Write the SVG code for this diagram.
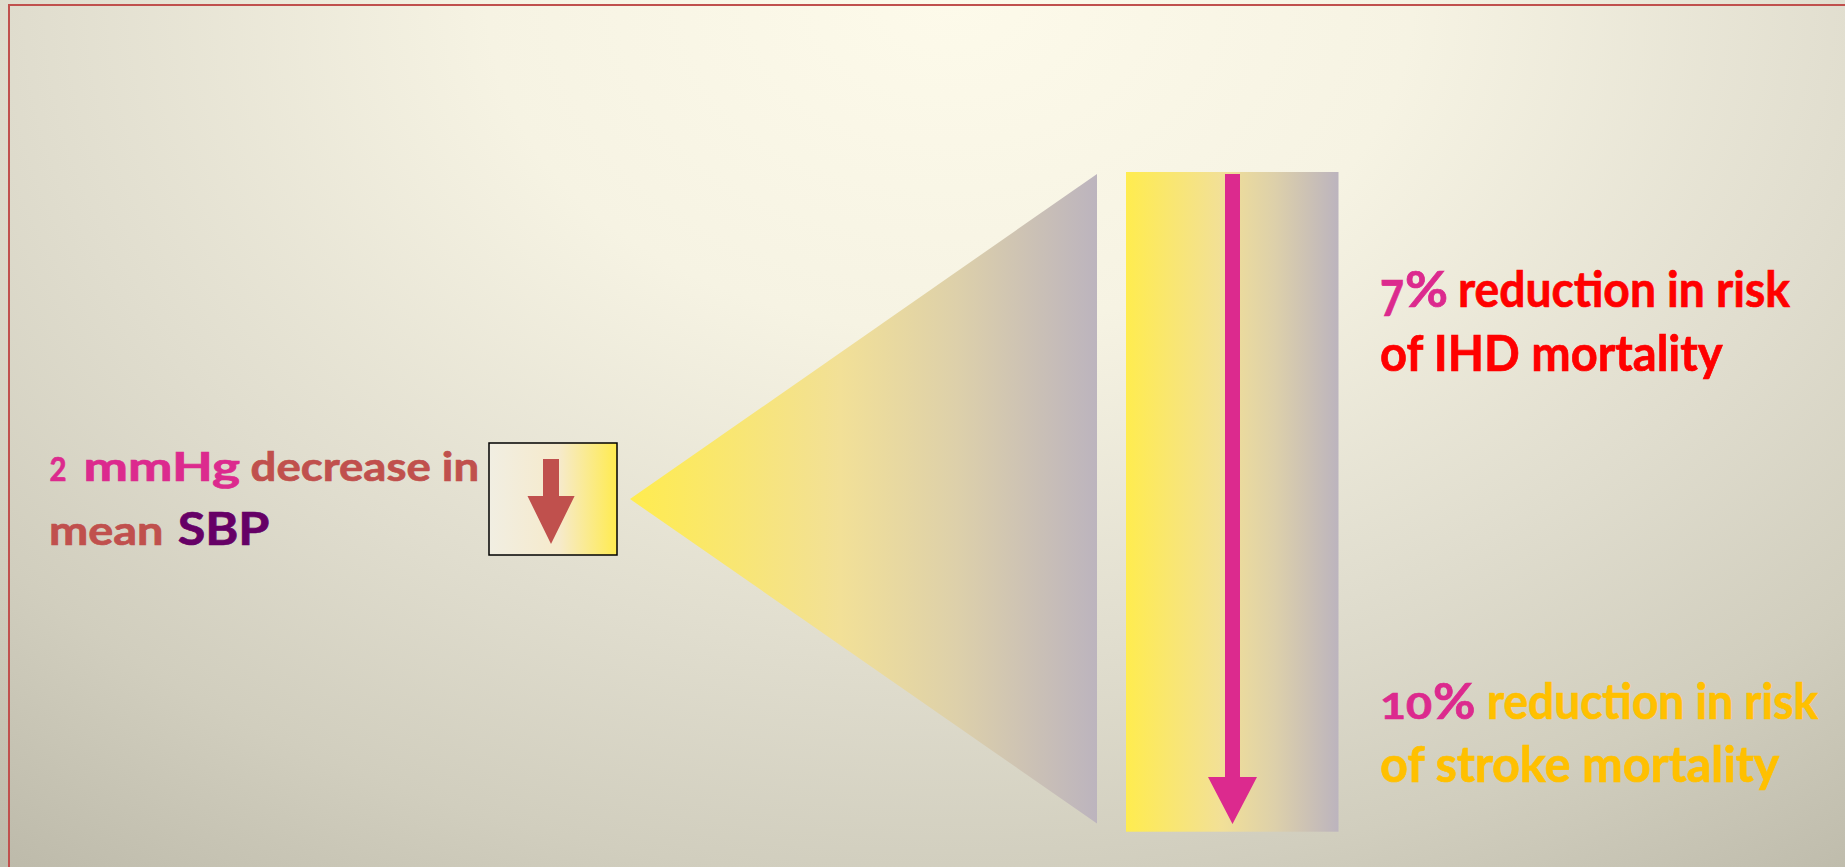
<svg xmlns="http://www.w3.org/2000/svg" width="1845" height="867" viewBox="0 0 1845 867">
<defs>
<radialGradient id="bg" gradientUnits="userSpaceOnUse" cx="950" cy="0" r="1100" gradientTransform="translate(950 0) scale(1.4 1) translate(-950 0)">
<stop offset="0" stop-color="#FDFAEA"/>
<stop offset="0.3" stop-color="#F6F3E3"/>
<stop offset="0.6" stop-color="#E0DDCE"/>
<stop offset="0.8" stop-color="#D1CEBE"/>
<stop offset="1" stop-color="#BDBAAA"/>
</radialGradient>
<linearGradient id="fan" x1="0" y1="0" x2="1" y2="0">
<stop offset="0" stop-color="#FFEC4F"/>
<stop offset="0.45" stop-color="#F2E097"/>
<stop offset="0.7" stop-color="#DDD0AA"/>
<stop offset="1" stop-color="#BCB4BE"/>
</linearGradient>
<linearGradient id="boxg" x1="0" y1="0" x2="1" y2="0">
<stop offset="0" stop-color="#F1EEE2"/>
<stop offset="0.55" stop-color="#F6EACB"/>
<stop offset="1" stop-color="#FFEB4F"/>
</linearGradient>
<style>
.t{font-family:Lato,"Open Sans","Liberation Sans",sans-serif;font-weight:700;stroke-width:0.7px}
.l{font-size:40px}
.r{font-size:49px}
.pink{fill:#DC2A8E;stroke:#DC2A8E}
.brown{fill:#C0504D;stroke:#C0504D}
.purple{fill:#660066;stroke:#660066}
.red{fill:#FF0000;stroke:#FF0000}
.gold{fill:#FFC000;stroke:#FFC000}
</style>
</defs>
<rect x="0" y="0" width="1845" height="867" fill="url(#bg)"/>
<rect x="9" y="5" width="1900" height="900" fill="none" stroke="#C0504D" stroke-width="2"/>

<g id="source-label">
<text class="t pink" x="49.5" y="481" font-size="32" textLength="17" lengthAdjust="spacingAndGlyphs">2</text>
<text class="t l pink" x="83.5" y="481" textLength="156.5" lengthAdjust="spacingAndGlyphs">mmHg</text>
<text class="t l brown" x="250.6" y="481" textLength="228.5" lengthAdjust="spacingAndGlyphs">decrease in</text>
<text class="t l brown" x="49" y="545" textLength="114.5" lengthAdjust="spacingAndGlyphs">mean</text>
<text class="t purple" x="177.7" y="545" font-size="45" textLength="91.8" lengthAdjust="spacingAndGlyphs">SBP</text>
</g>

<g id="decrease-box">
<rect x="489" y="443" width="128" height="112" fill="url(#boxg)" stroke="#000" stroke-width="1.5"/>
<polygon points="543,459 559,459 559,496 574.6,496 551,544 527.5,496 543,496" fill="#C0504D"/>
</g>

<g id="fan">
<polygon points="630,499 1097,174 1097,823.5" fill="url(#fan)"/>
</g>

<g id="column">
<rect x="1126" y="172" width="212.5" height="659.7" fill="url(#fan)"/>
</g>

<g id="connectors">
<polygon points="1225,174 1240,174 1240,777 1257,777 1232.5,824 1208,777 1225,777" fill="#DC2A8E"/>
</g>

<g id="ihd-label">
<text class="t r pink" x="1380" y="316" textLength="24" lengthAdjust="spacingAndGlyphs">7</text>
<text class="t r pink" x="1405" y="307" textLength="43" lengthAdjust="spacingAndGlyphs">%</text>
<text class="t r red" x="1458" y="307" textLength="332" lengthAdjust="spacingAndGlyphs">reduction in risk</text>
<text class="t r red" x="1380" y="371" textLength="342.6" lengthAdjust="spacingAndGlyphs">of IHD mortality</text>
</g>

<g id="stroke-label">
<text class="t pink" x="1380" y="718.5" font-size="37" textLength="52" lengthAdjust="spacingAndGlyphs">10</text>
<text class="t r pink" x="1433" y="718.5" textLength="42.5" lengthAdjust="spacingAndGlyphs">%</text>
<text class="t r gold" x="1487" y="718.5" textLength="331" lengthAdjust="spacingAndGlyphs">reduction in risk</text>
<text class="t r gold" x="1380" y="781.5" textLength="399" lengthAdjust="spacingAndGlyphs">of stroke mortality</text>
</g>
</svg>
